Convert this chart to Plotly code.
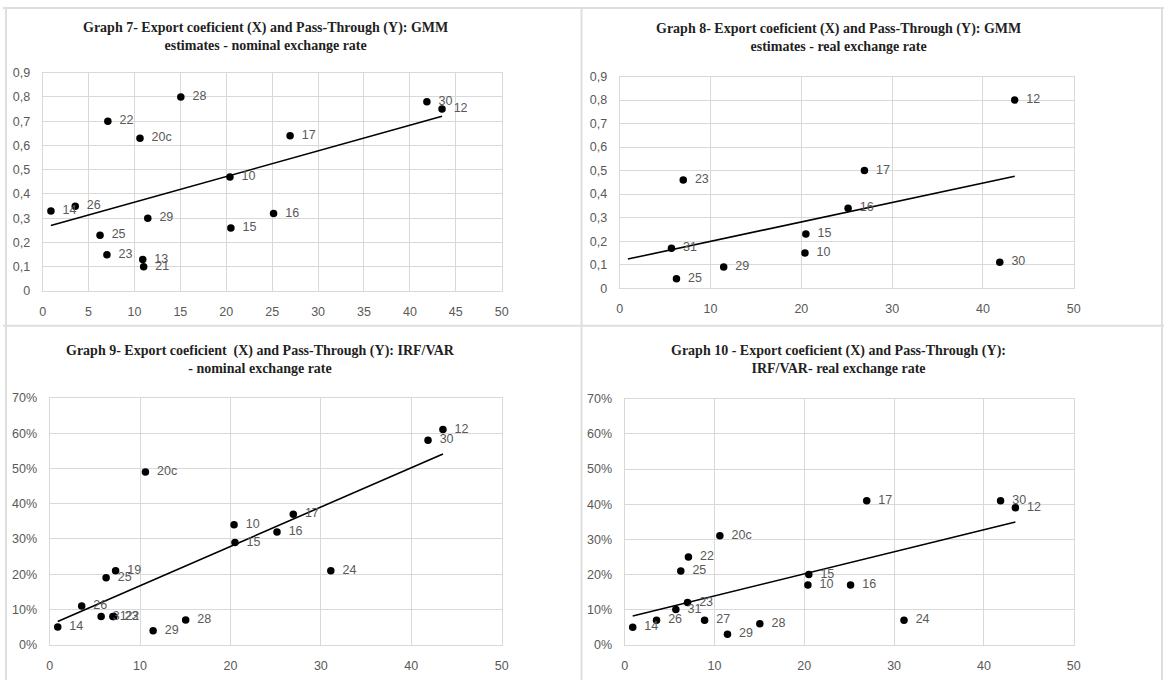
import numpy as np
import plotly.graph_objects as go

W, H = 1171, 687

# Export coefficient (X) by sector
sectors = ["10", "12", "13", "14", "15", "16", "17", "19", "20c", "21",
           "22", "23", "24", "25", "26", "27", "28", "29", "30", "31"]
export_coef = [20.4, 43.5, 10.9, 0.9, 20.5, 25.15, 26.95, 7.3, 10.6, 11.0,
               7.1, 7.0, 31.1, 6.25, 3.55, 8.9, 15.05, 11.45, 41.85, 5.7]

# Graph 7 - GMM, nominal
g7_sectors = ["14", "26", "25", "23", "22", "20c", "13", "21", "29", "28",
              "10", "15", "16", "17", "30", "12"]
g7_values = [0.33, 0.35, 0.23, 0.15, 0.70, 0.63, 0.13, 0.10, 0.30, 0.80,
             0.47, 0.26, 0.32, 0.64, 0.78, 0.75]

# Graph 8 - GMM, real
g8_sectors = ["31", "25", "23", "29", "10", "15", "16", "17", "30", "12"]
g8_values = [0.17, 0.04, 0.46, 0.09, 0.15, 0.23, 0.34, 0.50, 0.11, 0.80]

# Graph 9 - IRF/VAR, nominal
g9_sectors = ["14", "26", "31", "22", "23", "25", "19", "20c", "29", "28",
              "10", "15", "16", "17", "24", "30", "12"]
g9_values = [0.05, 0.11, 0.08, 0.08, 0.08, 0.19, 0.21, 0.49, 0.04, 0.07,
             0.34, 0.29, 0.32, 0.37, 0.21, 0.58, 0.61]

# Graph 10 - IRF/VAR, real
g10_sectors = ["14", "26", "31", "25", "23", "22", "27", "20c", "29", "28",
               "15", "10", "16", "17", "24", "30", "12"]
g10_values = [0.05, 0.07, 0.10, 0.21, 0.12, 0.25, 0.07, 0.31, 0.03, 0.06,
              0.20, 0.17, 0.17, 0.41, 0.07, 0.41, 0.39]

titles = [
    "Graph 7- Export coeficient (X) and Pass-Through (Y): GMM<br>estimates - nominal exchange rate",
    "Graph 8- Export coeficient (X) and Pass-Through (Y): GMM<br>estimates - real exchange rate",
    "Graph 9- Export coeficient  (X) and Pass-Through (Y): IRF/VAR<br>- nominal exchange rate",
    "Graph 10 - Export coeficient (X) and Pass-Through (Y):<br>IRF/VAR- real exchange rate",
]

coef = dict(zip(sectors, export_coef))
trend_x = np.array([min(export_coef), max(export_coef)])

# layout geometry in pixels: (left, right, top, bottom)
boxes = [(40, 503, 67, 290), (622, 1080, 71, 287),
         (47, 503, 399, 651), (627, 1080, 400, 651)]
title_pos = [(265, 30.5), (843, 31), (260, 359.5), (843, 360)]

panels = [(g7_sectors, g7_values), (g8_sectors, g8_values),
          (g9_sectors, g9_values), (g10_sectors, g10_values)]

GRID = "#d9d9d9"
TXT = "#595959"
SANS = "Liberation Sans, Arial, sans-serif"
SERIF = "Liberation Serif, Times New Roman, serif"

fig = go.Figure()
layout = dict(width=W, height=H, margin=dict(l=0, r=0, t=0, b=0),
              paper_bgcolor="white", plot_bgcolor="white",
              showlegend=False, separators=",.")
annotations = []

for i, ((secs, vals), (l, r, t, b)) in enumerate(zip(panels, boxes)):
    n = i + 1
    xa = "x" if n == 1 else f"x{n}"
    ya = "y" if n == 1 else f"y{n}"
    xs = np.array([coef[s] for s in secs])
    ys = np.array(vals)

    # linear trendline (OLS)
    slope, intercept = np.polyfit(xs, ys, 1)
    fig.add_trace(go.Scatter(x=trend_x, y=slope * trend_x + intercept,
                             mode="lines", line=dict(color="black", width=1.6),
                             xaxis=xa, yaxis=ya, hoverinfo="skip"))
    # points
    fig.add_trace(go.Scatter(x=xs, y=ys, mode="markers",
                             marker=dict(color="black", size=7.5),
                             xaxis=xa, yaxis=ya))
    # labels (offset through an invisible larger marker)
    fig.add_trace(go.Scatter(x=xs, y=ys, mode="markers+text", text=secs,
                             textposition="middle right",
                             textfont=dict(family=SANS, size=12.5, color=TXT),
                             marker=dict(color="rgba(0,0,0,0)", size=17),
                             xaxis=xa, yaxis=ya, hoverinfo="skip"))

    is_pct = n >= 3
    xkey = "xaxis" if n == 1 else f"xaxis{n}"
    ykey = "yaxis" if n == 1 else f"yaxis{n}"
    layout[xkey] = dict(domain=[l / W, r / W], anchor=ya, range=[0, 50],
                        dtick=5 if n == 1 else 10, tick0=0,
                        showgrid=True, gridcolor=GRID, gridwidth=1,
                        zeroline=False, showline=True, linecolor=GRID,
                        linewidth=1, mirror=True, ticks="",
                        ticklabelstandoff=9,
                        tickfont=dict(family=SANS, size=12.5, color=TXT),
                        fixedrange=True)
    layout[ykey] = dict(domain=[1 - b / H, 1 - t / H], anchor=xa,
                        range=[0, 0.7] if is_pct else [0, 0.9],
                        dtick=0.1, tick0=0,
                        tickformat=".0%" if is_pct else "",
                        showgrid=True, gridcolor=GRID, gridwidth=1,
                        zeroline=False, showline=True, linecolor=GRID,
                        linewidth=1, mirror=True, ticks="",
                        ticklabelstandoff=9,
                        tickfont=dict(family=SANS, size=12.5, color=TXT),
                        fixedrange=True)
    cx, cy = title_pos[i]
    annotations.append(dict(text=titles[i], x=cx / W, y=1 - cy / H,
                            xref="paper", yref="paper", xanchor="center",
                            yanchor="middle", showarrow=False,
                            font=dict(family=SERIF, size=14, color="#1f1f1f",
                                      weight="bold"),
                            align="center"))

layout["annotations"] = annotations

# panel frame lines
FR = "#dedede"
shapes = []
for (x0, y0, x1, y1) in [(3, 0, 3, H), (583.5, 0, 583.5, H), (1169, 0, 1169, H),
                         (0, 1, W, 1), (0, 325.5, W, 325.5)]:
    shapes.append(dict(type="line", xref="paper", yref="paper",
                       x0=x0 / W, x1=x1 / W, y0=1 - y0 / H, y1=1 - y1 / H,
                       line=dict(color=FR, width=2)))
layout["shapes"] = shapes

fig.update_layout(**layout)
fig.write_html("out.html")
